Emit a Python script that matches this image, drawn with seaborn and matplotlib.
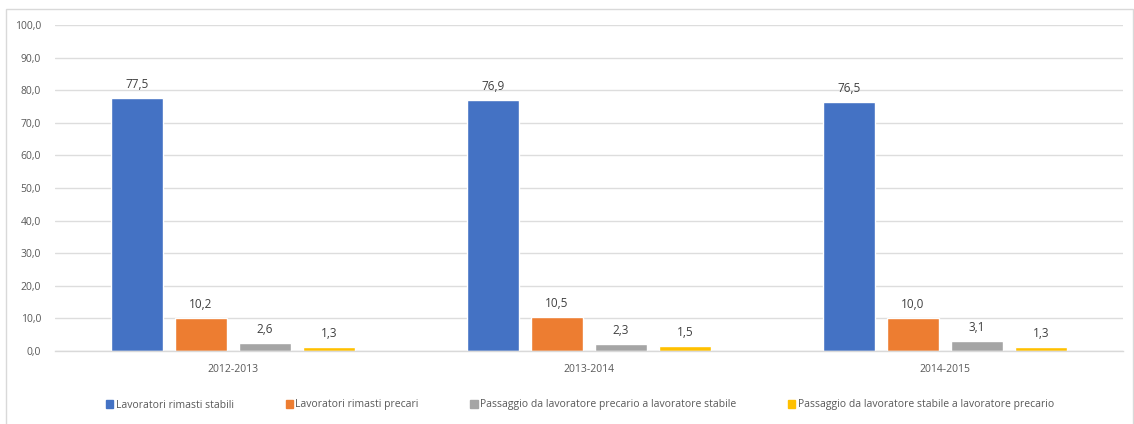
import matplotlib
matplotlib.use("Agg")
import matplotlib.pyplot as plt
from matplotlib.patches import Rectangle
import seaborn as sns
import pandas as pd

periods = ["2012-2013", "2013-2014", "2014-2015"]
series = [
    "Lavoratori rimasti stabili",
    "Lavoratori rimasti precari",
    "Passaggio da lavoratore precario a lavoratore stabile",
    "Passaggio da lavoratore stabile a lavoratore precario",
]
stabili = [77.5, 76.9, 76.5]
precari = [10.2, 10.5, 10.0]
prec_to_stab = [2.6, 2.3, 3.1]
stab_to_prec = [1.3, 1.5, 1.3]
colors = ["#4472C4", "#ED7D31", "#A5A5A5", "#FFC000"]

rows = []
for name, vals in zip(series, [stabili, precari, prec_to_stab, stab_to_prec]):
    for p, v in zip(periods, vals):
        rows.append({"periodo": p, "serie": name, "valore": v})
df = pd.DataFrame(rows)

sns.set_theme(style="white")
plt.rcParams["font.family"] = ["Open Sans", "DejaVu Sans"]
text_color = "#595959"

fig = plt.figure(figsize=(11.34, 4.24), dpi=100)
ax = fig.add_axes([55 / 1134, 1 - 351 / 424, 1068 / 1134, 326 / 424])

sns.barplot(data=df, x="periodo", y="valore", hue="serie", palette=colors,
            width=0.72, gap=0.2, saturation=1, ax=ax, legend=False)

for cont in ax.containers:
    ax.bar_label(cont, labels=[f"{v:.1f}".replace(".", ",") for v in cont.datavalues],
                 padding=5, fontsize=8.5, color="#404040")

ax.set_ylim(0, 100)
ax.set_yticks(range(0, 101, 10))
ax.set_yticklabels([f"{v:.1f}".replace(".", ",") for v in range(0, 101, 10)])
ax.set_xlim(-0.5, 2.5)
ax.grid(axis="y", color="#DDDDDD", linewidth=1)
ax.set_axisbelow(True)
for s in ["top", "right", "left"]:
    ax.spines[s].set_visible(False)
ax.spines["bottom"].set_color("#D9D9D9")
ax.spines["bottom"].set_linewidth(1)
ax.tick_params(axis="both", length=0, labelsize=7.5, colors=text_color)
ax.tick_params(axis="y", pad=10)
ax.tick_params(axis="x", pad=9)
ax.set_xlabel("")
ax.set_ylabel("")

handles = [Rectangle((0, 0), 1, 1, color=c) for c in colors]
fig.legend(handles, series, loc="center", bbox_to_anchor=(0.5 + 13 / 1134, 1 - 405 / 424),
           ncol=4, frameon=False, fontsize=7.5, handlelength=0.7, handleheight=0.7,
           handletextpad=0.2, columnspacing=5.0, labelcolor=text_color)

fig.patches.append(Rectangle((6 / 1134, -0.01), 1127 / 1134, 1 - 9 / 424 + 0.01,
                             transform=fig.transFigure, fill=False,
                             edgecolor="#D9D9D9", linewidth=1))

fig.savefig("out.png", dpi=100)
